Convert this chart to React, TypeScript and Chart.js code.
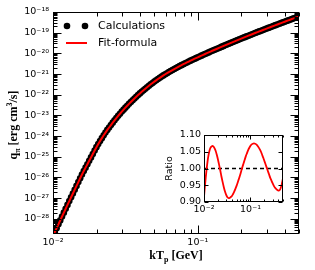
import React, { useEffect, useRef } from 'react';
import { Chart, registerables } from 'chart.js';

Chart.register(...registerables);

// ---- data ----
// kT_p [GeV] of the calculated points
const kTCalc = [
  0.01, 0.010292, 0.010593, 0.010902, 0.01122, 0.011548, 0.011885, 0.012232, 0.012589, 0.012957,
  0.013335, 0.013725, 0.014125, 0.014538, 0.014962, 0.015399, 0.015849, 0.016312, 0.016788, 0.017278,
  0.017783, 0.018302, 0.018836, 0.019387, 0.019953, 0.020535, 0.021135, 0.021752, 0.022387, 0.023041,
  0.023714, 0.024406, 0.025119, 0.025852, 0.026607, 0.027384, 0.028184, 0.029007, 0.029854, 0.030726,
  0.031623, 0.032546, 0.033497, 0.034475, 0.035481, 0.036517, 0.037584, 0.038681, 0.039811, 0.040973,
  0.04217, 0.043401, 0.044668, 0.045973, 0.047315, 0.048697, 0.050119, 0.051582, 0.053088, 0.054639,
  0.056234, 0.057876, 0.059566, 0.061306, 0.063096, 0.064938, 0.066834, 0.068786, 0.070795, 0.072862,
  0.074989, 0.077179, 0.079433, 0.081752, 0.08414, 0.086596, 0.089125, 0.091728, 0.094406, 0.097163,
  0.1, 0.10292, 0.10593, 0.10902, 0.1122, 0.11548, 0.11885, 0.12232, 0.12589, 0.12957,
  0.13335, 0.13725, 0.14125, 0.14538, 0.14962, 0.15399, 0.15849, 0.16312, 0.16788, 0.17278,
  0.17783, 0.18302, 0.18836, 0.19387, 0.19953, 0.20535, 0.21135, 0.21752, 0.22387, 0.23041,
  0.23714, 0.24406, 0.25119, 0.25852, 0.26607, 0.27384, 0.28184, 0.29007, 0.29854, 0.30726,
  0.31623, 0.32546, 0.33497, 0.34475, 0.35481, 0.36517, 0.37584, 0.38681, 0.39811, 0.40973,
  0.4217, 0.43401, 0.44668, 0.45973, 0.47315, 0.48697, 0.5,
];

// log10 of q_pi [erg cm^3/s] at kTCalc
const rateLog10 = [
  -28.825, -28.638, -28.45, -28.263, -28.075, -27.888, -27.7, -27.513, -27.325, -27.142,
  -26.958, -26.774, -26.59, -26.407, -26.223, -26.039, -25.855, -25.69, -25.525, -25.36,
  -25.195, -25.03, -24.865, -24.7, -24.535, -24.385, -24.235, -24.098, -23.96, -23.83,
  -23.7, -23.583, -23.465, -23.35, -23.235, -23.128, -23.02, -22.918, -22.815, -22.72,
  -22.625, -22.533, -22.44, -22.353, -22.265, -22.18, -22.095, -22.015, -21.935, -21.858,
  -21.78, -21.708, -21.635, -21.565, -21.495, -21.43, -21.365, -21.303, -21.24, -21.181,
  -21.122, -21.066, -21.01, -20.958, -20.905, -20.855, -20.805, -20.757, -20.708, -20.662,
  -20.615, -20.57, -20.525, -20.482, -20.438, -20.396, -20.353, -20.312, -20.27, -20.23,
  -20.19, -20.15, -20.11, -20.071, -20.031, -19.992, -19.953, -19.914, -19.875, -19.838,
  -19.8, -19.763, -19.725, -19.688, -19.65, -19.613, -19.575, -19.539, -19.503, -19.467,
  -19.43, -19.394, -19.358, -19.322, -19.285, -19.25, -19.215, -19.18, -19.145, -19.11,
  -19.075, -19.04, -19.005, -18.972, -18.938, -18.904, -18.87, -18.837, -18.803, -18.769,
  -18.735, -18.702, -18.669, -18.636, -18.603, -18.57, -18.536, -18.503, -18.47, -18.438,
  -18.405, -18.373, -18.34, -18.308, -18.275, -18.243, -18.21,
];

// kT_p [GeV] of the ratio curve (inset)
const kTRatio = [
  0.01, 0.01059, 0.01122, 0.01189, 0.01259, 0.01334, 0.01413, 0.01496, 0.01585, 0.01679,
  0.01778, 0.01884, 0.01995, 0.02113, 0.02239, 0.02371, 0.02512, 0.02661, 0.02818, 0.02985,
  0.03162, 0.0335, 0.03548, 0.03758, 0.03981, 0.04217, 0.04467, 0.04732, 0.05012, 0.05309,
  0.05623, 0.05957, 0.0631, 0.06683, 0.07079, 0.07499, 0.07943, 0.08414, 0.08913, 0.09441,
  0.1, 0.1059, 0.1122, 0.1189, 0.1259, 0.1334, 0.1413, 0.1496, 0.1585, 0.1679,
  0.1778, 0.1884, 0.1995, 0.2113, 0.2239, 0.2371, 0.2512, 0.2661, 0.2818, 0.2985,
  0.3162, 0.335, 0.3548, 0.3758, 0.3981, 0.4217, 0.4467, 0.4732, 0.5,
];

// fit / calculation
const ratio = [
  0.915, 0.955, 0.99, 1.02, 1.042, 1.057, 1.064, 1.067, 1.066, 1.061,
  1.053, 1.041, 1.027, 1.011, 0.994, 0.976, 0.96, 0.945, 0.932, 0.922,
  0.915, 0.912, 0.912, 0.915, 0.918, 0.924, 0.931, 0.939, 0.948, 0.958,
  0.969, 0.98, 0.992, 1.004, 1.015, 1.026, 1.037, 1.046, 1.055, 1.062,
  1.068, 1.072, 1.074, 1.075, 1.074, 1.072, 1.068, 1.063, 1.057, 1.05,
  1.041, 1.032, 1.022, 1.012, 1.002, 0.992, 0.982, 0.972, 0.964, 0.956,
  0.949, 0.943, 0.939, 0.936, 0.934, 0.935, 0.942, 0.955, 0.971,
];

const rateTickExponents = [-28, -27, -26, -25, -24, -23, -22, -21, -20, -19, -18];
const kTTickExponents = [-2, -1];
const ratioTicks = [0.9, 0.95, 1.0, 1.05, 1.1];
const unityRatio = 1.0;
const legendLabels = ['Calculations', 'Fit-formula'];

const kTMin = 0.01;
const kTMax = 0.5;
const rateMin = 1.85e-29;
const rateMax = 1e-18;
const ratioMin = 0.9;
const ratioMax = 1.1;

// ---- helpers ----
const SUP: Record<string, string> = {
  '-': '\u207B', '0': '\u2070', '1': '\u00B9', '2': '\u00B2', '3': '\u00B3',
  '4': '\u2074', '5': '\u2075', '6': '\u2076', '7': '\u2077', '8': '\u2078', '9': '\u2079',
};
const sup = (s: string) => s.split('').map((c) => SUP[c] ?? c).join('');
const pow10Label = (e: number) => '10' + sup(String(e));

const TICK_FONT = { family: 'DejaVu Sans', size: 9.5 };
const SERIF_B = (s: number) => `bold ${s}px "Liberation Serif"`;

type Run = { t: string; font: string; dy: number };

function drawRuns(ctx: CanvasRenderingContext2D, runs: Run[], cx: number, baseY: number) {
  let total = 0;
  const widths = runs.map((r) => {
    ctx.font = r.font;
    const w = ctx.measureText(r.t).width;
    total += w;
    return w;
  });
  let x = cx - total / 2;
  ctx.textAlign = 'left';
  ctx.textBaseline = 'alphabetic';
  runs.forEach((r, i) => {
    ctx.font = r.font;
    ctx.fillText(r.t, x, baseY + r.dy);
    x += widths[i];
  });
}

function logMinorTicks(min: number, max: number) {
  const out: { v: number; major: boolean }[] = [];
  const e0 = Math.floor(Math.log10(min));
  const e1 = Math.ceil(Math.log10(max));
  for (let e = e0; e <= e1; e++) {
    for (let m = 1; m <= 9; m++) {
      const v = m * Math.pow(10, e);
      if (v >= min * 0.9999 && v <= max * 1.0001) out.push({ v, major: m === 1 });
    }
  }
  return out;
}

const mainDecor = {
  id: 'mainDecor',
  afterDatasetsDraw(chart: any) {
    const { ctx, chartArea: a, scales } = chart;
    const xs = scales.x;
    const ys = scales.y;
    ctx.save();
    ctx.strokeStyle = '#000';
    ctx.lineWidth = 1;
    const L = Math.round(a.left) + 0.5;
    const R = Math.round(a.right) - 0.5;
    const T = Math.round(a.top) + 0.5;
    const B = Math.round(a.bottom) - 0.5;
    ctx.beginPath();
    for (const t of logMinorTicks(kTMin, kTMax)) {
      const px = Math.round(xs.getPixelForValue(t.v)) + 0.5;
      const len = t.major ? 8 : 4;
      ctx.moveTo(px, B); ctx.lineTo(px, B - len);
      ctx.moveTo(px, T); ctx.lineTo(px, T + len);
    }
    for (const t of logMinorTicks(rateMin, rateMax)) {
      const py = Math.round(ys.getPixelForValue(t.v)) + 0.5;
      const len = t.major ? 8 : 4;
      ctx.moveTo(L, py); ctx.lineTo(L + len, py);
      ctx.moveTo(R, py); ctx.lineTo(R - len, py);
    }
    ctx.stroke();
    ctx.strokeRect(L, T, R - L, B - T);

    // legend
    const ly1 = a.top + 14;
    const ly2 = a.top + 31;
    ctx.fillStyle = '#000';
    for (const dx of [14, 32]) {
      ctx.beginPath();
      ctx.arc(a.left + dx, ly1, 3.3, 0, Math.PI * 2);
      ctx.fill();
    }
    ctx.strokeStyle = '#ff0000';
    ctx.lineWidth = 2;
    ctx.beginPath();
    ctx.moveTo(a.left + 13, ly2);
    ctx.lineTo(a.left + 34, ly2);
    ctx.stroke();
    ctx.fillStyle = '#000';
    ctx.font = '11px "DejaVu Sans"';
    ctx.textAlign = 'left';
    ctx.textBaseline = 'middle';
    ctx.fillText(legendLabels[0], a.left + 45, ly1);
    ctx.fillText(legendLabels[1], a.left + 45, ly2);

    // x title
    drawRuns(ctx, [
      { t: 'kT', font: SERIF_B(12), dy: 0 },
      { t: 'p', font: SERIF_B(8), dy: 2.5 },
      { t: ' [GeV]', font: SERIF_B(12), dy: 0 },
    ], (a.left + a.right) / 2, 259);

    // y title
    ctx.save();
    ctx.translate(17, (a.top + a.bottom) / 2 + 2);
    ctx.rotate(-Math.PI / 2);
    drawRuns(ctx, [
      { t: 'q', font: SERIF_B(12), dy: 0 },
      { t: '\u03C0', font: SERIF_B(8), dy: 2.5 },
      { t: ' [erg cm', font: SERIF_B(12), dy: 0 },
      { t: '3', font: SERIF_B(8), dy: -5 },
      { t: '/s]', font: SERIF_B(12), dy: 0 },
    ], 0, 0);
    ctx.restore();
    ctx.restore();
  },
};

const insetDecor = {
  id: 'insetDecor',
  beforeDatasetsDraw(chart: any) {
    const { ctx, chartArea: a } = chart;
    ctx.save();
    ctx.fillStyle = '#fff';
    ctx.fillRect(a.left, a.top, a.right - a.left, a.bottom - a.top);
    ctx.restore();
  },
  afterDatasetsDraw(chart: any) {
    const { ctx, chartArea: a, scales } = chart;
    const xs = scales.x;
    const ys = scales.y;
    ctx.save();
    ctx.strokeStyle = '#000';
    ctx.lineWidth = 1;
    const L = Math.round(a.left) + 0.5;
    const R = Math.round(a.right) - 0.5;
    const T = Math.round(a.top) + 0.5;
    const B = Math.round(a.bottom) - 0.5;
    ctx.beginPath();
    for (const t of logMinorTicks(kTMin, kTMax)) {
      const px = Math.round(xs.getPixelForValue(t.v)) + 0.5;
      const len = t.major ? 4 : 2;
      ctx.moveTo(px, B); ctx.lineTo(px, B - len);
      ctx.moveTo(px, T); ctx.lineTo(px, T + len);
    }
    for (const v of ratioTicks) {
      const py = Math.round(ys.getPixelForValue(v)) + 0.5;
      ctx.moveTo(L, py); ctx.lineTo(L + 4, py);
      ctx.moveTo(R, py); ctx.lineTo(R - 4, py);
    }
    ctx.stroke();
    ctx.strokeRect(L, T, R - L, B - T);

    ctx.save();
    ctx.fillStyle = '#000';
    ctx.translate(10, (a.top + a.bottom) / 2);
    ctx.rotate(-Math.PI / 2);
    ctx.font = '9.5px "DejaVu Sans"';
    ctx.textAlign = 'center';
    ctx.textBaseline = 'middle';
    ctx.fillText('Ratio', 0, 0);
    ctx.restore();
    ctx.restore();
  },
};

export default function App() {
  const mainRef = useRef<HTMLCanvasElement>(null);
  const insetRef = useRef<HTMLCanvasElement>(null);

  useEffect(() => {
    const calcPoints = kTCalc.map((x, i) => ({ x, y: Math.pow(10, rateLog10[i]) }));
    const fitPoints = kTCalc.map((x, i) => ({ x, y: Math.pow(10, rateLog10[i]) }));
    const ratioPoints = kTRatio.map((x, i) => ({ x, y: ratio[i] }));
    const unityPoints = [{ x: kTMin, y: unityRatio }, { x: kTMax, y: unityRatio }];

    const main = new Chart(mainRef.current as HTMLCanvasElement, {
      type: 'scatter',
      data: {
        datasets: [
          {
            label: legendLabels[0],
            data: calcPoints,
            showLine: false,
            pointRadius: 3.3,
            pointBorderWidth: 0,
            pointBackgroundColor: '#000',
            backgroundColor: '#000',
            borderColor: '#000',
            clip: 0,
            order: 2,
          } as any,
          {
            label: legendLabels[1],
            data: fitPoints,
            showLine: true,
            pointRadius: 0,
            borderColor: '#ff0000',
            borderWidth: 2,
            fill: false,
            clip: 0,
            order: 1,
          } as any,
        ],
      },
      options: {
        animation: false,
        responsive: false,
        devicePixelRatio: 1,
        events: [],
        layout: { padding: { top: 12, right: 16, left: 0, bottom: 0 } },
        plugins: { legend: { display: false }, tooltip: { enabled: false } },
        scales: {
          x: {
            type: 'logarithmic',
            min: kTMin,
            max: kTMax,
            afterBuildTicks: (s: any) => {
              s.ticks = kTTickExponents.map((e) => ({ value: Math.pow(10, e) }));
            },
            afterFit: (s: any) => { s.height = 36; },
            grid: { display: false, drawTicks: false },
            border: { display: false },
            ticks: {
              autoSkip: false,
              maxRotation: 0,
              padding: 3,
              color: '#000',
              font: TICK_FONT,
              callback: (_v: any, i: number) => pow10Label(kTTickExponents[i]),
            },
          },
          y: {
            type: 'logarithmic',
            min: rateMin,
            max: rateMax,
            afterBuildTicks: (s: any) => {
              s.ticks = rateTickExponents.map((e) => ({ value: Math.pow(10, e) }));
            },
            afterFit: (s: any) => { s.width = 53; },
            grid: { display: false, drawTicks: false },
            border: { display: false },
            ticks: {
              autoSkip: false,
              padding: 4,
              color: '#000',
              font: TICK_FONT,
              callback: (_v: any, i: number) => pow10Label(rateTickExponents[i]),
            },
          },
        },
      } as any,
      plugins: [mainDecor],
    });

    const inset = new Chart(insetRef.current as HTMLCanvasElement, {
      type: 'scatter',
      data: {
        datasets: [
          {
            data: unityPoints,
            showLine: true,
            pointRadius: 0,
            borderColor: '#000',
            borderWidth: 1.5,
            borderDash: [4, 3],
            fill: false,
            order: 2,
          } as any,
          {
            data: ratioPoints,
            showLine: true,
            pointRadius: 0,
            borderColor: '#ff0000',
            borderWidth: 1.8,
            tension: 0.3,
            fill: false,
            clip: 0,
            order: 1,
          } as any,
        ],
      },
      options: {
        animation: false,
        responsive: false,
        devicePixelRatio: 1,
        events: [],
        layout: { padding: { top: 10, right: 12, left: 0, bottom: 0 } },
        plugins: { legend: { display: false }, tooltip: { enabled: false } },
        scales: {
          x: {
            type: 'logarithmic',
            min: kTMin,
            max: kTMax,
            afterBuildTicks: (s: any) => {
              s.ticks = kTTickExponents.map((e) => ({ value: Math.pow(10, e) }));
            },
            afterFit: (s: any) => { s.height = 23; },
            grid: { display: false, drawTicks: false },
            border: { display: false },
            ticks: {
              autoSkip: false,
              maxRotation: 0,
              padding: 2,
              color: '#000',
              font: TICK_FONT,
              callback: (_v: any, i: number) => pow10Label(kTTickExponents[i]),
            },
          },
          y: {
            type: 'linear',
            min: ratioMin,
            max: ratioMax,
            afterBuildTicks: (s: any) => {
              s.ticks = ratioTicks.map((v) => ({ value: v }));
            },
            afterFit: (s: any) => { s.width = 44; },
            grid: { display: false, drawTicks: false },
            border: { display: false },
            ticks: {
              autoSkip: false,
              padding: 3,
              color: '#000',
              font: TICK_FONT,
              callback: (v: any) => Number(v).toFixed(2),
            },
          },
        },
      } as any,
      plugins: [insetDecor],
    });

    return () => {
      main.destroy();
      inset.destroy();
    };
  }, []);

  return (
    <div style={{ position: 'absolute', left: 0, top: 0, width: 315, height: 270, background: '#fff' }}>
      <canvas
        ref={mainRef}
        width={315}
        height={270}
        style={{ position: 'absolute', left: 0, top: 0, width: 315, height: 270 }}
      />
      <canvas
        ref={insetRef}
        width={135}
        height={100}
        style={{ position: 'absolute', left: 160, top: 125, width: 135, height: 100 }}
      />
    </div>
  );
}
